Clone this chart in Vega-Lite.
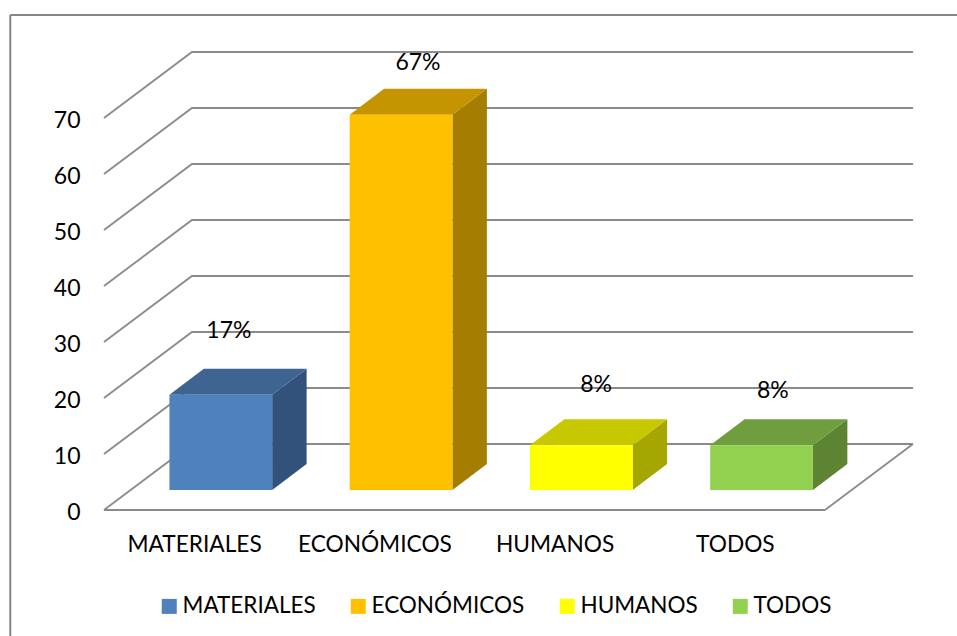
{
"$schema":"https://vega.github.io/schema/vega-lite/v6.json",
"autosize":"none","width":721,"height":392,
"padding":{"left":104,"top":118,"right":132,"bottom":126},
"background":"white",
"config":{"view":{"stroke":null},"font":"Lato","text":{"font":"Lato"}},
"datasets":{
"barras":[
{"categoria":"MATERIALES","indice":0,"valor":17},
{"categoria":"ECONÓMICOS","indice":1,"valor":67},
{"categoria":"HUMANOS","indice":2,"valor":8},
{"categoria":"TODOS","indice":3,"valor":8}],
"marcas":[{"marca":0},{"marca":10},{"marca":20},{"marca":30},{"marca":40},{"marca":50},{"marca":60},{"marca":70}],
"uno":[{"fila":1}]
},
"layer":[
{"data":{"name":"marcas"},
 "transform":[{"calculate":"[0,1,2]","as":"paso"},{"flatten":["paso"]},
  {"calculate":"[0,0.488,4.488][datum.paso]","as":"px"},
  {"calculate":"datum.marca+(datum.paso>0?11.786:0)","as":"py"}],
 "mark":{"type":"line","stroke":"#8a8a8a","strokeWidth":1.8},
 "encoding":{
  "x":{"field":"px","type":"quantitative","scale":{"domain":[0,4],"nice":false,"zero":false},
   "axis":{"values":[0.5,1.5,2.5,3.5],"labelExpr":"['MATERIALES','ECONÓMICOS','HUMANOS','TODOS'][floor(datum.value)]","title":null,"domain":false,"ticks":false,"grid":false,"labelFontSize":22.7,"labelColor":"#000000","labelPadding":23,"labelOverlap":false,"labelFlush":false,"labelFont":"Lato"}},
  "y":{"field":"py","type":"quantitative","scale":{"domain":[0,70],"nice":false,"zero":false},
   "axis":{"values":[0,10,20,30,40,50,60,70],"title":null,"domain":false,"ticks":false,"grid":false,"labelFontSize":23,"labelColor":"#000000","labelPadding":24,"labelOffset":2,"labelOverlap":false,"labelFlush":false,"labelFont":"Lato"}},
  "detail":{"field":"marca"}}},
{"data":{"name":"uno"},"mark":{"type":"rule","stroke":"#8a8a8a","strokeWidth":1.8},
 "encoding":{"x":{"datum":0,"type":"quantitative","axis":{"title":null}},"x2":{"datum":4},"y":{"datum":0,"type":"quantitative","axis":{"title":null}}}},
{"data":{"name":"uno"},"mark":{"type":"rule","stroke":"#8a8a8a","strokeWidth":1.8},
 "encoding":{"x":{"datum":4,"type":"quantitative","axis":{"title":null}},"x2":{"datum":4.488},"y":{"datum":0,"type":"quantitative","axis":{"title":null}},"y2":{"datum":11.786}}},
{"data":{"name":"uno"},"mark":{"type":"rule","stroke":"#868686","strokeWidth":2},
 "encoding":{"x":{"datum":-0.52,"type":"quantitative","axis":{"title":null}},"y":{"datum":-23,"type":"quantitative","axis":{"title":null}},"y2":{"datum":88.4}}},
{"data":{"name":"uno"},"mark":{"type":"rule","stroke":"#868686","strokeWidth":2},
 "encoding":{"x":{"datum":-0.52,"type":"quantitative","axis":{"title":null}},"x2":{"datum":4.8},"y":{"datum":88.4,"type":"quantitative","axis":{"title":null}}}},
{"data":{"name":"barras"},
 "transform":[{"calculate":"[0,1]","as":"paso"},{"flatten":["paso"]},
  {"calculate":"datum.indice+0.933+datum.paso*0.191","as":"px"},
  {"calculate":"3.57+datum.paso*4.64","as":"py2"},
  {"calculate":"datum.py2+datum.valor","as":"py"}],
 "mark":{"type":"area","orient":"vertical"},
 "encoding":{
  "x":{"field":"px","type":"quantitative","axis":{"title":null}},
  "y":{"field":"py","type":"quantitative","axis":{"title":null}},
  "y2":{"field":"py2"},
  "color":{"field":"categoria","type":"nominal","legend":null,"scale":{"domain":["MATERIALES","ECONÓMICOS","HUMANOS","TODOS"],"range":["#32527B","#A57D00","#A6A600","#5D8433"]}}}},
{"data":{"name":"barras"},
 "transform":[{"calculate":"[0,1,2,3]","as":"paso"},{"flatten":["paso"]},
  {"calculate":"datum.indice+[0.363,0.554,0.933,1.124][datum.paso]","as":"px"},
  {"calculate":"datum.valor+3.57+(datum.paso==3?4.64:0)","as":"py2"},
  {"calculate":"datum.valor+3.57+(datum.paso>0?4.64:0)","as":"py"}],
 "mark":{"type":"area","orient":"vertical"},
 "encoding":{
  "x":{"field":"px","type":"quantitative","axis":{"title":null}},
  "y":{"field":"py","type":"quantitative","axis":{"title":null}},
  "y2":{"field":"py2"},
  "color":{"field":"categoria","type":"nominal","legend":null,"scale":{"domain":["MATERIALES","ECONÓMICOS","HUMANOS","TODOS"],"range":["#3E6592","#C49500","#C8C800","#709E3E"]}}}},
{"data":{"name":"barras"},
 "transform":[
  {"calculate":"datum.indice+0.363","as":"px"},
  {"calculate":"datum.indice+0.933","as":"px2"},
  {"calculate":"datum.valor+3.57","as":"py"},
  {"calculate":"3.57","as":"py2"}],
 "mark":{"type":"rect"},
 "encoding":{
  "x":{"field":"px","type":"quantitative","axis":{"title":null}},
  "x2":{"field":"px2"},
  "y":{"field":"py","type":"quantitative","axis":{"title":null}},
  "y2":{"field":"py2"},
  "color":{"field":"categoria","type":"nominal","sort":null,
   "scale":{"domain":["MATERIALES","ECONÓMICOS","HUMANOS","TODOS"],"range":["#4F81BD","#FFC000","#FFFF00","#92D050"]},
   "legend":{"title":null,"orient":"none","legendX":54,"legendY":477,"direction":"horizontal","columns":4,"symbolType":"square","symbolSize":225,"symbolStrokeWidth":0,"labelFontSize":22.5,"labelColor":"#000000","labelFont":"Lato","labelOffset":2,"columnPadding":31,"gridAlign":"each"}}}},
{"data":{"name":"barras"},
 "transform":[
  {"calculate":"datum.indice+0.5+[0.193,0.242,0.23,0.211][datum.indice]","as":"px"},
  {"calculate":"datum.valor+[15.1,13,14.5,13.4][datum.indice]","as":"py"},
  {"calculate":"datum.valor+'%'","as":"etiqueta"}],
 "mark":{"type":"text","fontSize":23,"font":"Lato","color":"#000000","align":"center","baseline":"middle","dy":1},
 "encoding":{
  "x":{"field":"px","type":"quantitative","axis":{"title":null}},
  "y":{"field":"py","type":"quantitative","axis":{"title":null}},
  "text":{"field":"etiqueta"}}}
],
"resolve":{"scale":{"color":"independent"}}
}
